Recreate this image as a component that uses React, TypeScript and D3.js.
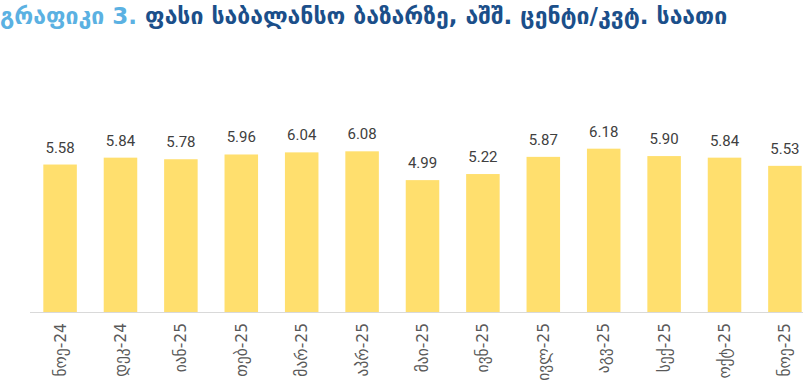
import * as d3 from 'd3'

const months = ['ნოე-24', 'დეკ-24', 'იან-25', 'თებ-25', 'მარ-25', 'აპრ-25', 'მაი-25', 'ივნ-25', 'ივლ-25', 'აგვ-25', 'სექ-25', 'ოქტ-25', 'ნოე-25']
const prices = [5.58, 5.84, 5.78, 5.96, 6.04, 6.08, 4.99, 5.22, 5.87, 6.18, 5.90, 5.84, 5.53]

const titleLead = 'გრაფიკი 3.'
const titleRest = ' ფასი საბალანსო ბაზარზე, აშშ. ცენტი/კვტ. საათი'

const W = 803
const H = 385

const App = () => {
    const baseY = 312
    // step ~60.4px, bar ~33.5px wide
    const x = d3.scaleBand().domain(months).range([25.2, 819.8]).paddingInner(0.445).paddingOuter(0.3)
    const y = d3.scaleLinear().domain([0, 7]).range([baseY, 127])
    const font = '"DejaVu Sans", sans-serif'
    const numFont = 'Roboto, "Liberation Sans", sans-serif'

    return (
        <svg width={W} height={H} style={{ position: 'absolute', left: 0, top: 0, background: '#fff' }}>
            <text x={0} y={24} fontFamily={font} fontWeight="bold" fontSize={23}>
                <tspan fill="#5bb1e2">{titleLead}</tspan>
                <tspan fill="#1b4f8a">{titleRest}</tspan>
            </text>
            <g>
                {months.map((m, i) => (
                    <rect key={m} x={x(m)} y={y(prices[i])} width={x.bandwidth()} height={baseY - y(prices[i])} fill="#ffdf6e" />
                ))}
            </g>
            <g fontFamily={numFont} fontSize={15} fill="#404040" textAnchor="middle">
                {months.map((m, i) => (
                    <text key={m} x={x(m)! + x.bandwidth() / 2} y={y(prices[i]) - 12}>{prices[i].toFixed(2)}</text>
                ))}
            </g>
            <line x1={30} x2={W} y1={baseY + 0.5} y2={baseY + 0.5} stroke="#d9d9d9" strokeWidth={1} />
            <g fontFamily={font} fontSize={15.5} fill="#595959">
                {months.map((m) => (
                    <text key={m} transform={`translate(${x(m)! + x.bandwidth() / 2 + 5.5},${323}) rotate(-90)`} textAnchor="end">{m}</text>
                ))}
            </g>
        </svg>
    )
}

export default App
